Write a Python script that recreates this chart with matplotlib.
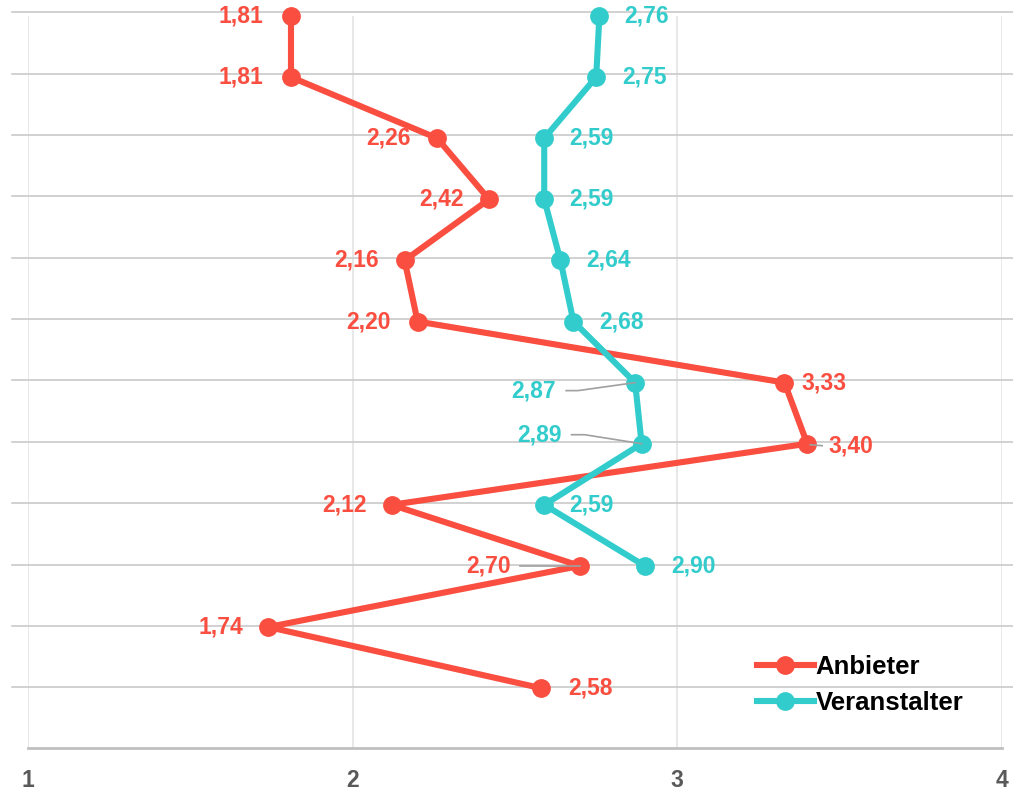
import matplotlib
matplotlib.use("Agg")
import matplotlib.pyplot as plt

plt.rcParams['font.family'] = ['Liberation Sans', 'DejaVu Sans']

categories = list(range(12))
anbieter = [1.81, 1.81, 2.26, 2.42, 2.16, 2.20, 3.33, 3.40, 2.12, 2.70, 1.74, 2.58]
veranstalter = [2.76, 2.75, 2.59, 2.59, 2.64, 2.68, 2.87, 2.89, 2.59, 2.90]
x_ticks = [1, 2, 3, 4]

RED = "#F94E40"
TEAL = "#33CCCC"
GRID_H = "#cacaca"
GRID_V = "#e4e4e4"
LEADER = "#a0a0a0"

W, H = 1013, 793
fig = plt.figure(figsize=(W / 100, H / 100), dpi=100)
# axes pixel box: left 28, right 1002, top 16, bottom 748
ax = fig.add_axes([28 / W, 1 - 748 / H, (1002 - 28) / W, (748 - 16) / H])
ax.set_xlim(1, 4)
ax.set_ylim(11.98, 0)

for s in ["top", "right", "left"]:
    ax.spines[s].set_visible(False)
ax.spines["bottom"].set_color("#c0c0c0")
ax.spines["bottom"].set_linewidth(2)

ax.set_xticks(x_ticks)
ax.set_xticklabels([str(t) for t in x_ticks])
ax.tick_params(axis="x", length=0, pad=15, labelsize=16.5, labelcolor="#595959")
for lab in ax.get_xticklabels():
    lab.set_fontweight("bold")
ax.set_yticks([])

# vertical grid
for t in x_ticks:
    ax.axvline(t, color=GRID_V, lw=1.2, zorder=0)
# horizontal grid, extending slightly beyond the axes
for c in categories:
    ax.axhline(c * 1.0043 - 0.0606, xmin=-0.0164, xmax=1.012, color=GRID_H,
               lw=1.2, zorder=0.5, clip_on=False)

ax.plot(anbieter, categories[:len(anbieter)], color=RED, lw=4.4, marker="o",
        markersize=12.5, clip_on=False, zorder=3, label="Anbieter")
ax.plot(veranstalter, categories[:len(veranstalter)], color=TEAL, lw=4.4,
        marker="o", markersize=12.5, clip_on=False, zorder=4, label="Veranstalter")

PX = 0.72  # points per pixel at dpi 100


def fmt(v):
    return f"{v:.2f}".replace(".", ",")


# label offsets in pixels (dx, dy); dy positive = up
red_off = [(-28, 0), (-28, 0), (-26, 0), (-25, 0), (-26, 0), (-27, 0),
           (17, 0), (21, -2), (-25, 0), (-69, 0), (-25, 0), (27, 0)]
teal_off = [(25, 0), (26, 0), (25, 0), (25, 0), (26, 0), (26, 0),
            (-79, -8), (-80, 9), (25, 0), (26, 0)]

red_leaders = {
    7: [(3, -1), (15, -2)],
    9: [(-60, 0), (0, 0)],
}
teal_leaders = {
    6: [(-69, -8), (-57, -8), (0, 0)],
    7: [(-70, 9), (-57, 9), (0, 0)],
}


def draw_labels(vals, offs, color, leaders):
    fig.canvas.draw()
    for i, (v, (dx, dy)) in enumerate(zip(vals, offs)):
        ha = "right" if dx < 0 else "left"
        ax.annotate(fmt(v), xy=(v, i), xytext=(dx * PX, dy * PX),
                    textcoords="offset points", ha=ha, va="center",
                    fontsize=16.5, fontweight="bold", color=color,
                    annotation_clip=False, zorder=6)
        if i in leaders:
            xd, yd = ax.transData.transform((v, i))
            pts = leaders[i]
            xs = [xd + p[0] for p in pts]
            ys = [yd + p[1] for p in pts]
            fig.add_artist(plt.Line2D(xs, ys, transform=None, color=LEADER,
                                      lw=1.2, zorder=5))


draw_labels(anbieter, red_off, RED, red_leaders)
draw_labels(veranstalter, teal_off, TEAL, teal_leaders)

ax.legend(loc="upper left", bbox_to_anchor=(757 / W, 1 - 655 / H),
          bbox_transform=fig.transFigure, frameon=False,
          prop={"weight": "bold", "size": 18.5}, handlelength=2.2,
          handletextpad=0.08, labelspacing=0.47, borderpad=0,
          borderaxespad=0)

fig.savefig("out.png", dpi=100)
